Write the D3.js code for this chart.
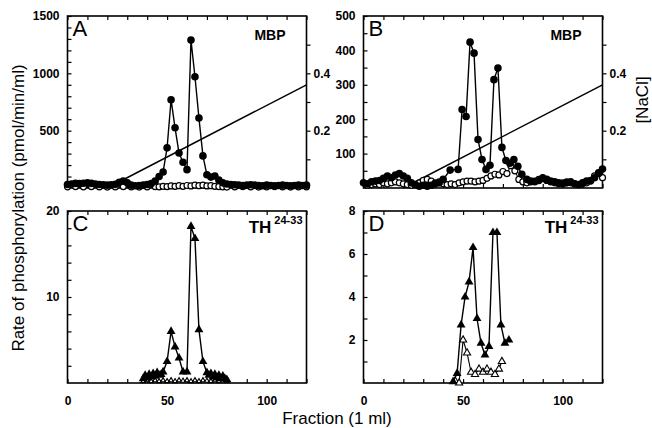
<!DOCTYPE html>
<html>
<head>
<meta charset="utf-8">
<script src="https://cdn.jsdelivr.net/npm/d3@7"></script>
<style>
  body { margin: 0; background: #fff; }
  text { font-family: "Liberation Sans", Arial, sans-serif; fill: #000; }
  .tick text { font-weight: bold; font-size: 12px; }
</style>
</head>
<body>
<svg id="chart" width="652" height="428"></svg>
<script>
// ---- data: [fraction, value] ----
const fractionTicks = [0, 10, 20, 30, 40, 50, 60, 70, 80, 90, 100, 110, 120];
const fractionLabels = [0, 50, 100];

// NaCl gradient (M)
const naclGradient = [[20, 0], [120, 0.36]];

// A: MBP, filled = active, open = control
const mbpActiveA = [[0,30],[2,35],[4,40],[6,38],[8,42],[10,45],[12,40],[14,35],[16,30],[18,28],[20,25],[22,28],[24,32],[26,50],[28,60],[30,45],[32,25],[34,20],[36,22],[38,25],[40,30],[42,38],[44,60],[46,100],[48,140],[50,350],[52,770],[54,525],[56,305],[58,225],[60,160],[62,1290],[64,970],[66,610],[68,280],[70,115],[72,95],[74,105],[76,70],[78,45],[80,35],[82,30],[84,28],[86,25],[88,22],[90,25],[92,28],[94,25],[96,22],[98,20],[100,25],[102,22],[104,20],[106,22],[108,25],[110,22],[112,20],[114,22],[116,25],[118,22],[120,25]];
const mbpControlA = [[0,10],[4,12],[8,10],[12,12],[16,10],[20,8],[24,10],[28,12],[32,10],[36,8],[40,10],[44,12],[46,10],[48,15],[50,12],[52,18],[54,15],[56,20],[58,15],[60,22],[62,18],[64,25],[66,20],[68,25],[70,18],[72,20],[74,15],[76,12],[78,10],[80,8],[84,10],[88,12],[92,10],[96,8],[100,10],[104,12],[108,10],[112,8],[116,10],[120,10]];

// B: MBP
const mbpActiveB = [[0,15],[2,12],[4,18],[6,20],[8,22],[10,28],[12,35],[14,30],[16,38],[18,42],[20,35],[22,28],[24,15],[26,10],[28,5],[30,8],[32,5],[34,8],[36,12],[38,15],[40,25],[43.5,52],[47.5,54],[49.5,228],[51.5,208],[53.5,424],[55.5,392],[57.5,141],[59.5,83],[61.5,54],[63.5,66],[65.5,315],[67.5,349],[69.5,118],[71.5,80],[73.5,72],[75.5,83],[77.5,63],[79.5,40],[82,25],[84,20],[86,18],[88,22],[90,28],[92,25],[94,20],[96,18],[98,15],[100,12],[102,15],[104,18],[106,12],[108,10],[110,15],[112,20],[114,22],[116,30],[118,42],[120,55]];
const mbpControlB = [[2,8],[4,10],[6,12],[8,10],[10,15],[12,12],[14,15],[16,18],[18,15],[20,12],[22,10],[24,8],[26,10],[28,15],[30,22],[32,25],[34,20],[36,15],[38,18],[40,12],[42,10],[44,12],[46,10],[48,15],[50,18],[52,20],[54,20],[56,18],[58,20],[60,22],[62,28],[64,35],[66,40],[68,38],[70,48],[72,42],[74,65],[76,50],[78,25],[80,18],[82,15],[84,18],[86,20],[88,25],[90,30],[92,22],[94,18],[96,15],[98,12],[100,15],[102,18],[104,15],[106,12],[108,10],[110,12],[112,15],[114,20],[116,35],[118,45],[120,30]];

// C: TH 24-33
const thActiveC = [[38,0.5],[39,0.9],[40,0.6],[41,1.0],[42,0.7],[43,1.1],[44,0.8],[45,1.2],[46,0.9],[47,1.0],[48,1.3],[50,2.5],[52,6.0],[54,4.2],[56,2.9],[58,1.3],[60,1.3],[62,18.2],[64,16.8],[66,6.2],[68,2.5],[70,1.2],[71,0.9],[72,1.1],[73,0.7],[74,1.0],[75,0.6],[76,0.9],[77,0.5],[78,0.8],[79,0.5],[80,0.4]];
const thControlC = [[38,0.2],[40,0.3],[42,0.2],[44,0.3],[46,0.2],[48,0.3],[50,0.2],[52,0.3],[54,0.2],[56,0.3],[58,0.25],[60,0.3],[62,0.2],[64,0.3],[66,0.2],[68,0.3],[70,0.25],[72,0.2],[74,0.3],[76,0.2],[78,0.25],[80,0.2]];

// D: TH 24-33
const thActiveD = [[45,0.06],[47,0.45],[49,2.7],[51,4.0],[53,4.7],[55,6.3],[57,3.0],[59,1.85],[61,1.3],[63,1.7],[65,7.0],[67,7.0],[69,2.7],[71,1.85],[73,2.0]];
const thControlD = [[46,0.1],[48,0.0],[50,2.0],[52,1.4],[54,0.5],[56,0.4],[58,0.65],[60,0.5],[62,0.65],[64,0.5],[66,0.4],[68,0.65],[69.5,1.0]];

// ---- layout ----
const W = 239, H = 172;
const svg = d3.select("#chart");

const panels = [
  { letter: "A", left: 67.5, top: 16, yMax: 1500, yTicks: d3.range(100, 1501, 100), yLabels: [500, 1000, 1500],
    active: mbpActiveA, control: mbpControlA, marker: "circle", label: "MBP", nacl: true, xLabels: false },
  { letter: "B", left: 363.5, top: 16, yMax: 500, yTicks: d3.range(50, 501, 50), yLabels: [100, 200, 300, 400, 500],
    active: mbpActiveB, control: mbpControlB, marker: "circle", label: "MBP", nacl: true, xLabels: false },
  { letter: "C", left: 67.5, top: 211, yMax: 20, yTicks: d3.range(2, 21, 2), yLabels: [10, 20],
    active: thActiveC, control: thControlC, marker: "triangle", label: "TH", nacl: false, xLabels: true, smallOpen: true },
  { letter: "D", left: 363.5, top: 211, yMax: 8, yTicks: d3.range(1, 9, 1), yLabels: [2, 4, 6, 8],
    active: thActiveD, control: thControlD, marker: "triangle", label: "TH", nacl: false, xLabels: true }
];

panels.forEach(drawPanel);

function drawPanel(p) {
  const g = svg.append("g").attr("transform", `translate(${p.left},${p.top})`);
  const x = d3.scaleLinear().domain([0, 120]).range([0, W]);
  const y = d3.scaleLinear().domain([0, p.yMax]).range([H, 0]);

  // axes, ticks pointing inward
  const left = g.append("g")
    .call(d3.axisLeft(y).tickValues(p.yTicks).tickSize(-4).tickPadding(8)
      .tickFormat(d => p.yLabels.includes(d) ? d : ""));
  const topAx = g.append("g")
    .call(d3.axisTop(x).tickValues(fractionTicks).tickSize(-4).tickFormat(""));
  const bottom = g.append("g").attr("transform", `translate(0,${H})`)
    .call(d3.axisBottom(x).tickValues(fractionTicks).tickSize(-4).tickPadding(13)
      .tickFormat(d => p.xLabels && fractionLabels.includes(d) ? d : ""));
  [left, topAx, bottom].forEach(a => {
    a.select(".domain").remove();
    a.selectAll("line").attr("stroke-width", 1.2);
  });

  if (p.nacl) {
    const yN = d3.scaleLinear().domain([0, 0.6]).range([H, 0]);
    const right = g.append("g").attr("transform", `translate(${W},0)`)
      .call(d3.axisRight(yN).tickValues([0.1, 0.2, 0.3, 0.4, 0.5]).tickSize(4).tickPadding(3)
        .tickFormat(d => (d === 0.2 || d === 0.4) ? d3.format(".1f")(d) : ""));
    right.select(".domain").remove();
    right.selectAll("line").attr("stroke-width", 1.2);

    g.append("path")
      .datum(naclGradient)
      .attr("fill", "none")
      .attr("stroke", "#000")
      .attr("stroke-width", 1.5)
      .attr("d", d3.line().x(d => x(d[0])).y(d => yN(d[1])));
  }

  // frame
  g.append("rect")
    .attr("width", W).attr("height", H)
    .attr("fill", "none").attr("stroke", "#000").attr("stroke-width", 1.6);

  const line = d3.line().x(d => x(d[0])).y(d => y(d[1]));

  // control series (open markers)
  g.append("path").datum(p.control)
    .attr("fill", "none").attr("stroke", "#000").attr("stroke-width", 1.1)
    .attr("d", line);
  if (p.marker === "circle") {
    g.selectAll(".ctrl").data(p.control).join("circle")
      .attr("class", "ctrl")
      .attr("cx", d => x(d[0])).attr("cy", d => y(d[1]))
      .attr("r", 3).attr("fill", "#fff").attr("stroke", "#000").attr("stroke-width", 1.2);
  } else {
    g.selectAll(".ctrl").data(p.control).join("path")
      .attr("class", "ctrl")
      .attr("transform", d => `translate(${x(d[0])},${y(d[1])})`)
      .attr("d", d3.symbol(d3.symbolTriangle, p.smallOpen ? 10 : 22))
      .attr("fill", "#fff").attr("stroke", "#000").attr("stroke-width", 1.1);
  }

  // active series (filled markers)
  g.append("path").datum(p.active)
    .attr("fill", "none").attr("stroke", "#000").attr("stroke-width", 1.4)
    .attr("d", line);
  if (p.marker === "circle") {
    g.selectAll(".act").data(p.active).join("circle")
      .attr("class", "act")
      .attr("cx", d => x(d[0])).attr("cy", d => y(d[1]))
      .attr("r", 3.8).attr("fill", "#000");
  } else {
    g.selectAll(".act").data(p.active).join("path")
      .attr("class", "act")
      .attr("transform", d => `translate(${x(d[0])},${y(d[1])})`)
      .attr("d", d3.symbol(d3.symbolTriangle, 34))
      .attr("fill", "#000");
  }

  // panel letter
  g.append("text")
    .attr("x", 5).attr("y", 20)
    .style("font-size", "22px")
    .text(p.letter);

  // substrate label
  if (p.label === "MBP") {
    g.append("text")
      .attr("x", W - 21).attr("y", 24)
      .attr("text-anchor", "end")
      .style("font-size", "14px").style("font-weight", "bold")
      .text("MBP");
  } else {
    const t = g.append("text")
      .attr("x", W - 4).attr("y", 22)
      .attr("text-anchor", "end")
      .style("font-weight", "bold");
    t.append("tspan").style("font-size", "17px").text("TH");
    t.append("tspan").attr("dx", 3).attr("dy", -9).style("font-size", "11px").text("24-33");
  }
}

// axis titles
svg.append("text")
  .attr("transform", "translate(24,208) rotate(-90)")
  .attr("text-anchor", "middle")
  .style("font-size", "17px")
  .text("Rate of phosphorylation (pmol/min/ml)");

svg.append("text")
  .attr("x", 337).attr("y", 424)
  .attr("text-anchor", "middle")
  .style("font-size", "17px")
  .text("Fraction (1 ml)");

svg.append("text")
  .attr("transform", "translate(648,100) rotate(-90)")
  .attr("text-anchor", "middle")
  .style("font-size", "17px")
  .text("[NaCl]");
</script>
</body>
</html>
